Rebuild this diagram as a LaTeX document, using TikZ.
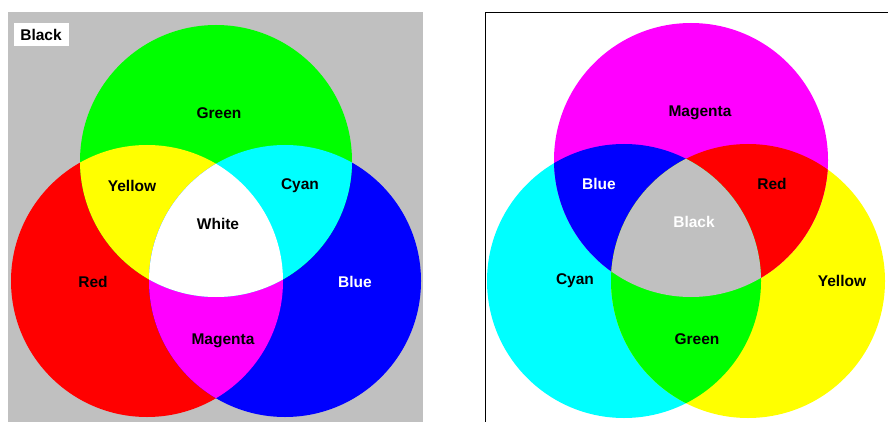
\documentclass[tikz,border=0pt]{standalone}
\usepackage{fontspec}
\setmainfont{Liberation Sans}
\definecolor{panelgray}{RGB}{192,192,192}
\definecolor{pR}{RGB}{255,0,0}
\definecolor{pG}{RGB}{0,255,0}
\definecolor{pB}{RGB}{0,0,255}
\definecolor{pC}{RGB}{0,255,255}
\definecolor{pM}{RGB}{255,0,255}
\definecolor{pY}{RGB}{255,255,0}
\begin{document}
\begin{tikzpicture}[x=1pt,y=-1pt,
  lbl/.style={font=\bfseries\fontsize{15.5}{16}\selectfont, inner sep=0pt, text=black},
  wlbl/.style={lbl, text=white}]
\useasboundingbox (0,0) rectangle (888,422);
\fill[white] (0,0) rectangle (888,422);
% ---------- left panel (additive) ----------
\fill[panelgray] (8,12) rectangle (423,422);
\def\cRed{(147,281) circle[radius=136]}
\def\cGreen{(216,161) circle[radius=136]}
\def\cBlue{(285,281) circle[radius=136]}
\fill[pR] \cRed;
\fill[pB] \cBlue;
\fill[pG] \cGreen;
\begin{scope}\clip \cRed; \fill[pY] \cGreen; \fill[pM] \cBlue; \end{scope}
\begin{scope}\clip \cGreen; \fill[pC] \cBlue; \end{scope}
\begin{scope}\clip \cRed; \clip \cGreen; \fill[white] \cBlue; \end{scope}
\node[lbl, fill=white, inner sep=3pt, minimum width=55, minimum height=23] (lblack) at (41,35) {Black};
\node[lbl] (lgreen) at (219,113) {Green};
\node[lbl] (lyellow) at (132,186) {Yellow};
\node[lbl] (lcyan) at (300,186) {Cyan};
\node[lbl] (lwhite) at (218,224) {White};
\node[lbl] (lred) at (93,282) {Red};
\node[wlbl] (lblue) at (355,282) {Blue};
\node[lbl] (lmagenta) at (223,341) {Magenta};
% ---------- right panel (subtractive) ----------
\def\cMag{(691,160) circle[radius=137]}
\def\cCyan{(624,281) circle[radius=137]}
\def\cYel{(748,281) circle[radius=137]}
\fill[pC] \cCyan;
\fill[pY] \cYel;
\fill[pM] \cMag;
\begin{scope}\clip \cMag; \fill[pB] \cCyan; \fill[pR] \cYel; \end{scope}
\begin{scope}\clip \cCyan; \fill[pG] \cYel; \end{scope}
\begin{scope}\clip \cMag; \clip \cCyan; \fill[panelgray] \cYel; \end{scope}
\draw[line width=1.5pt] (485.5,422) -- (485.5,12.5) -- (888,12.5);
\node[lbl] (rmagenta) at (700,113) {Magenta};
\node[wlbl] (rblue) at (599,184) {Blue};
\node[lbl] (rred) at (772,184) {Red};
\node[wlbl] (rblack) at (694,222) {Black};
\node[lbl] (rcyan) at (575,281) {Cyan};
\node[lbl] (ryellow) at (842,281) {Yellow};
\node[lbl] (rgreen) at (697,339) {Green};
\end{tikzpicture}
\end{document}
